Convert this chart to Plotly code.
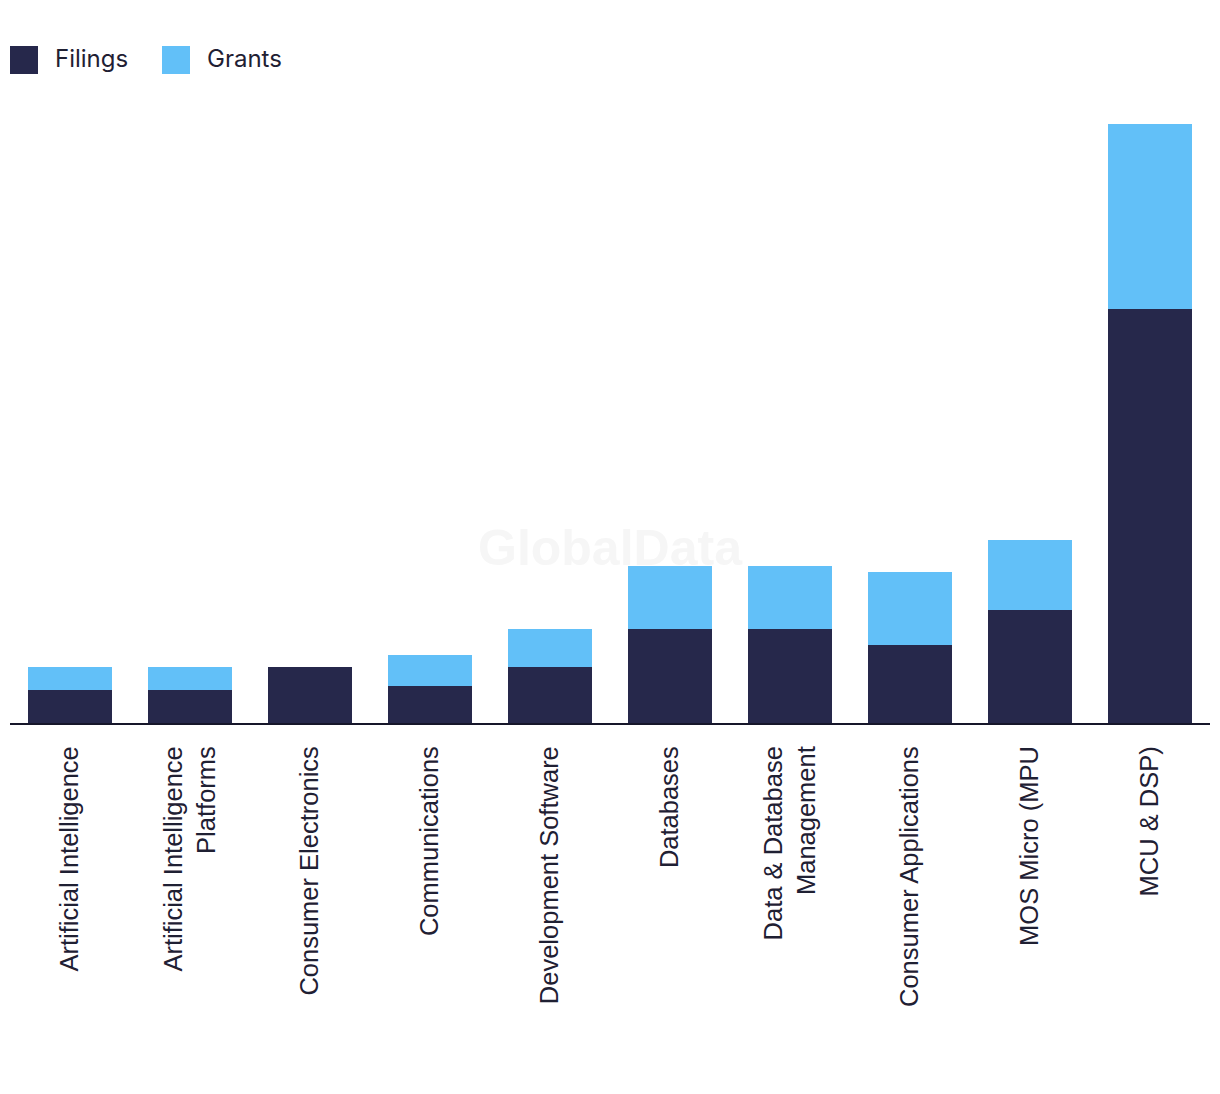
import plotly.graph_objects as go

categories = [
    "Artificial Intelligence",
    "Artificial Intelligence<br>Platforms",
    "Consumer Electronics",
    "Communications",
    "Development Software",
    "Databases",
    "Data & Database<br>Management",
    "Consumer Applications",
    "MOS Micro (MPU",
    "MCU & DSP)",
]
filings = [7, 7, 12, 7.9, 12, 20, 20, 16.6, 24, 88]
grants = [4.9, 4.9, 0, 6.6, 8.1, 13.4, 13.4, 15.5, 14.9, 39.4]
series_names = ["Filings", "Grants"]
series_colors = ["#26284B", "#62C0F8"]

FONT = "Inter, Roboto, sans-serif"
TICKFONT = "Liberation Sans, Arial, sans-serif"
TEXT = "#1f2033"

fig = go.Figure()
for name, vals, col in zip(series_names, [filings, grants], series_colors):
    fig.add_trace(go.Bar(x=categories, y=vals, name=name, marker=dict(color=col, line=dict(width=0)),
                         showlegend=False))

ymax = max(f + g for f, g in zip(filings, grants))

# page offset of the figure (body margin)
OFF = 8
L, R, T, B = 2, 18, 116, 379
W = 1220 - L - R
H = 1094 - T - B

def px_x(x):
    return (x - OFF - L) / W

def px_y(y):
    return (1094 - B - (y - OFF)) / H

shapes = []
annotations = []
leg_x = [10, 162]
for i, (name, col) in enumerate(zip(series_names, series_colors)):
    x0 = leg_x[i]
    shapes.append(dict(type="rect", xref="paper", yref="paper",
                       x0=px_x(x0), x1=px_x(x0 + 28), y0=px_y(74), y1=px_y(46),
                       fillcolor=col, line=dict(width=0)))
    annotations.append(dict(xref="paper", yref="paper", x=px_x(x0 + 43), y=px_y(58),
                            text=name, showarrow=False, xanchor="left", yanchor="middle",
                            font=dict(family=FONT, size=24, color=TEXT)))

annotations.append(dict(xref="paper", yref="paper", x=px_x(610), y=px_y(548),
                        text="<b>GlobalData</b>", showarrow=False, xanchor="center", yanchor="middle",
                        font=dict(family="Liberation Sans, Arial, sans-serif", size=50, color="#f6f6f6")))

fig.update_layout(
    barmode="stack",
    bargap=0.3,
    width=1220,
    height=1094,
    margin=dict(l=L, r=R, t=T, b=B, pad=0),
    paper_bgcolor="white",
    plot_bgcolor="white",
    font=dict(family=FONT, size=20, color=TEXT),
    shapes=shapes,
    annotations=annotations,
    xaxis=dict(
        tickangle=-90,
        showline=True,
        linecolor="#16162a",
        linewidth=2,
        ticks="outside",
        ticklen=11,
        tickcolor="rgba(0,0,0,0)",
        tickfont=dict(family=TICKFONT, size=25.5, color=TEXT),
        showgrid=False,
    ),
    yaxis=dict(
        range=[0, ymax],
        visible=False,
        showgrid=False,
        zeroline=False,
    ),
)

fig.write_html("out.html")
